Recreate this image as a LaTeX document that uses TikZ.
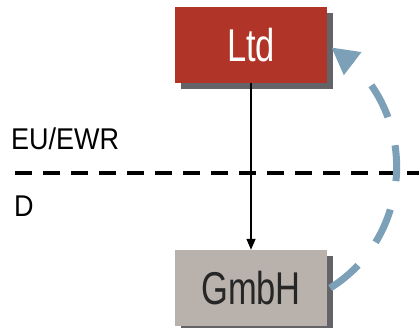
\documentclass[tikz,border=0pt]{standalone}
\usepackage{fontspec}
\setmainfont{Liberation Sans}
\newfontfamily\boxfont[FakeStretch=0.75]{Liberation Sans}
\newfontfamily\zonefont[FakeStretch=0.9]{Liberation Sans}
\usetikzlibrary{arrows.meta,shadows,bending}
\definecolor{brick}{HTML}{B03428}
\definecolor{stone}{HTML}{B9B1AB}
\definecolor{shade}{HTML}{636368}
\definecolor{steel}{HTML}{7BA0B7}

\begin{document}
\begin{tikzpicture}[x=1pt,y=1pt,line join=round,
    entity/.style={minimum width=152pt,minimum height=76pt,inner sep=0pt,
      font=\boxfont\fontsize{46}{46}\selectfont,
      drop shadow={shadow xshift=6pt,shadow yshift=-6pt,fill=shade,opacity=1}},
    zone/.style={anchor=west,inner sep=0pt,font=\zonefont\fontsize{30}{30}\selectfont}]
  \useasboundingbox (0,0) rectangle (419,328);

  % companies
  \node[entity,fill=brick,text=white] (ltd) at (251,282.7) {Ltd};
  \node[entity,fill=stone,text=black!85] (gmbh) at (251,40) {GmbH};

  % border line
  \coordinate (bl) at (15,154.7);
  \coordinate (br) at (419,154.7);
  \draw[line width=4pt,dash pattern=on 17pt off 11pt] (bl) -- (br);
  \node[zone] (eu) at (11,189) {EU/EWR};
  \node[zone] (de) at (14,122) {D};

  % holding relation
  \draw[line width=1.4pt,-{Triangle[length=11pt,width=9pt]}] (ltd.south) -- (gmbh.north);

  % back flow
  \draw[steel,line width=7pt,dash pattern=on 36pt off 29pt,
        -{Triangle[length=27pt,width=27pt]}]
    ([xshift=3pt]gmbh.east) to[out=32,in=-32,looseness=1.1]
    ([xshift=4pt,yshift=-2pt]ltd.east);
\end{tikzpicture}
\end{document}
